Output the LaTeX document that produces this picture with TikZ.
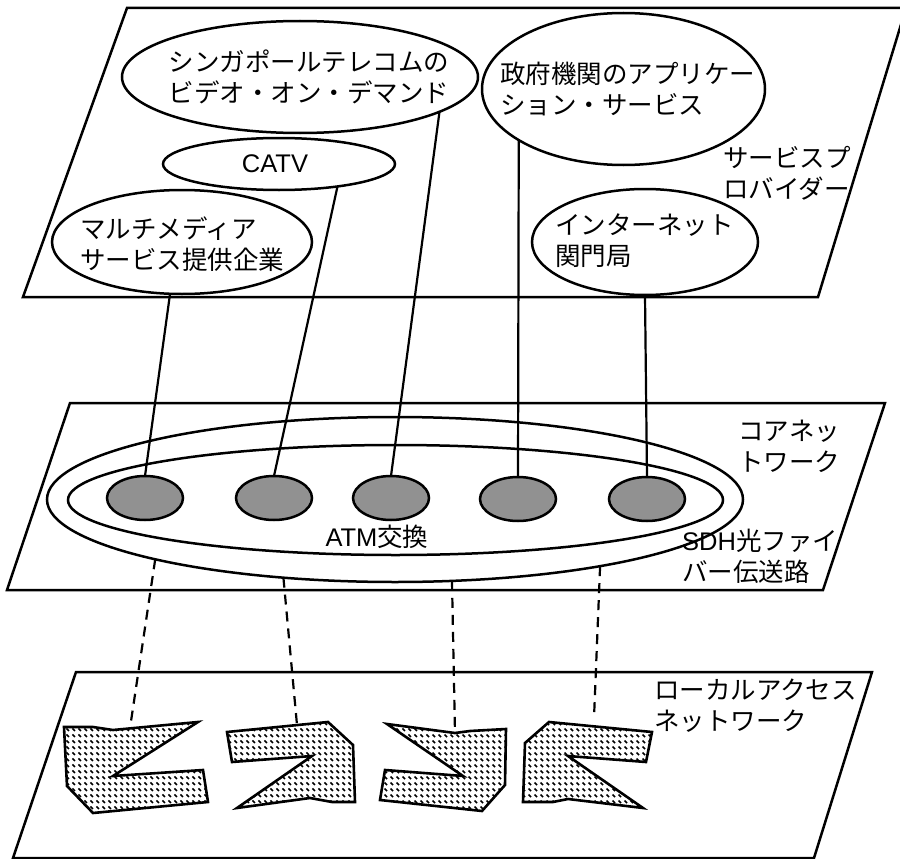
\documentclass[tikz,border=0pt]{standalone}
\usepackage{fontspec}
\setmainfont{Noto Sans CJK JP}
\newfontfamily\lat{Liberation Sans}
\usetikzlibrary{shapes.geometric,patterns}
\definecolor{gfill}{RGB}{145,145,145}
\pgfdeclarepatternformonly{dashdots}{\pgfqpoint{-1pt}{-1pt}}{\pgfqpoint{7pt}{7pt}}{\pgfqpoint{6pt}{6pt}}{%
  \pgfsetlinewidth{1.5pt}%
  \pgfpathmoveto{\pgfqpoint{0.5pt}{4.5pt}}%
  \pgfpathlineto{\pgfqpoint{3pt}{2pt}}%
  \pgfusepath{stroke}}
\begin{document}
\begin{tikzpicture}[x=1pt,y=-1pt,
  plane/.style={draw,line width=2.5pt,line join=miter},
  oval/.style={ellipse,draw,line width=2.5pt,inner sep=0pt,outer sep=0pt},
  sw/.style={ellipse,draw,line width=2.5pt,fill=gfill,inner sep=0pt,outer sep=0pt,minimum width=76pt,minimum height=44pt},
  txt/.style={font=\fontsize{25.5pt}{31pt}\selectfont,align=left,inner sep=0pt},
  link/.style={line width=2.2pt},
  dlink/.style={line width=2.2pt,dash pattern=on 10pt off 7pt},
  area/.style={draw,line width=2.6pt,line join=miter,pattern=dashdots}]
\useasboundingbox (0,0) rectangle (900,859);

% planes
\draw[plane] (127,8) -- (906,8) -- (818,297) -- (23,297) -- cycle;
\draw[plane] (70,403) -- (885,403) -- (823,590) -- (7,590) -- cycle;
\draw[plane] (76,672) -- (872,672) -- (814,858) -- (13,858) -- cycle;

% service provider ellipses
\node[oval,minimum width=356pt,minimum height=112pt] (sing) at (300,77) {};
\node[txt] (singt) at (309,77) {シンガポールテレコムの\\ビデオ・オン・デマンド};
\node[oval,minimum width=283pt,minimum height=152pt] (gov) at (623.5,89) {};
\node[txt,anchor=west] (govt) at (500,89) {政府機関のアプリケー\\ション・サービス};
\node[oval,minimum width=232pt,minimum height=52pt] (catv) at (279,164) {};
\node[txt] (catvt) at (275,164) {\lat CATV};
\node[oval,minimum width=260pt,minimum height=104pt] (multi) at (182,242) {};
\node[txt,anchor=west] (multit) at (80,244) {マルチメディア\\サービス提供企業};
\node[oval,minimum width=226pt,minimum height=106pt] (inet) at (645,242) {};
\node[txt,anchor=west] (inett) at (555,241) {インターネット\\関門局};
\node[txt,anchor=west] (spl) at (723,173) {サービスプ\\ロバイダー};

% core network
\node[oval,minimum width=696pt,minimum height=165pt] (outer) at (395,499.5) {};
\node[oval,minimum width=655pt,minimum height=110pt] (inner) at (395.5,500) {};
\node[sw] (c1) at (145,498) {};
\node[sw] (c2) at (274,498) {};
\node[sw] (c3) at (391,498) {};
\node[sw] (c4) at (518,499) {};
\node[sw] (c5) at (647,499) {};
\node[txt] (atm) at (377,537) {{\lat ATM}交換};
\node[txt,anchor=west] (cnl) at (738,446) {コアネッ\\トワーク};
\node[txt,anchor=west] (sdh) at (682,556) {{\lat SDH}光ファイ\\バー伝送路};

% local access
\node[txt,anchor=west] (lal) at (654,706) {ローカルアクセス\\ネットワーク};
\draw[area] (64,727) -- (93,727) -- (113,730) -- (198,722) -- (113,776) -- (203,770)
  -- (208,802) -- (93,813) -- (67,786) -- cycle;
\draw[area] (227,732) -- (328,722) -- (353,745) -- (355,802) -- (332,802) -- (310,798)
  -- (237,808) -- (312,756) -- (232,762) -- cycle;
\draw[area] (387,724) -- (455,733) -- (470,731) -- (506,729) -- (505,785) -- (482,811)
  -- (380,800) -- (385,770) -- (463,776) -- cycle;
\draw[area] (549,722) -- (652,732) -- (646,762) -- (568,756) -- (643,808) -- (568,799)
  -- (553,802) -- (523,802) -- (525,743) -- cycle;
\coordinate (e1) at (130,728);
\coordinate (e2) at (297,725);
\coordinate (e3) at (455,733);
\coordinate (e4) at (594,718);

% connectors
\draw[link] (multi.-103) -- (c1.north);
\draw[link] (catv.-21) -- (c2.north);
\draw[link] (sing.-14.4) -- (c3.north);
\draw[link] (gov.-154.8) -- (c4.north);
\draw[link] (inet.south) -- (c5.north);
\draw[dlink] (outer.-166) -- (e1);
\draw[dlink] (outer.-145.4) -- (e2);
\draw[dlink] (outer.-55) -- (e3);
\draw[dlink] (outer.-18.5) -- (e4);
\end{tikzpicture}
\end{document}
